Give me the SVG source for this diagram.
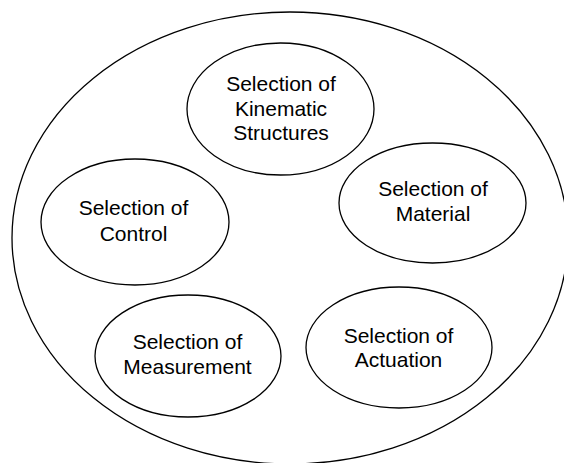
<svg xmlns="http://www.w3.org/2000/svg" width="564" height="463" viewBox="0 0 564 463">
<style>
.e{fill:#fff;stroke:#000;stroke-width:1.3}
.t{font-family:"Liberation Sans",Arial,sans-serif;font-size:21px;fill:#000;text-anchor:middle}
</style>
<rect width="564" height="463" fill="#fff"/>
<g id="outer"><ellipse class="e" cx="290" cy="238" rx="278" ry="226"/></g>
<g id="kinematic">
<ellipse class="e" cx="280.5" cy="109" rx="93.5" ry="66"/>
<text class="t" x="281" y="91">Selection of</text>
<text class="t" x="281" y="115.5">Kinematic</text>
<text class="t" x="281" y="140">Structures</text>
</g>
<g id="control">
<ellipse class="e" cx="135" cy="222" rx="94" ry="63"/>
<text class="t" x="133.5" y="215">Selection of</text>
<text class="t" x="133.5" y="240.5">Control</text>
</g>
<g id="material">
<ellipse class="e" cx="432.5" cy="203" rx="93.5" ry="60"/>
<text class="t" x="433" y="196">Selection of</text>
<text class="t" x="433" y="221">Material</text>
</g>
<g id="measurement">
<ellipse class="e" cx="188" cy="356" rx="93" ry="61"/>
<text class="t" x="187.5" y="349">Selection of</text>
<text class="t" x="187.5" y="374">Measurement</text>
</g>
<g id="actuation">
<ellipse class="e" cx="399" cy="347.5" rx="93" ry="60.5"/>
<text class="t" x="398.5" y="343">Selection of</text>
<text class="t" x="398.5" y="367">Actuation</text>
</g>
<g id="connectors"/>
</svg>
